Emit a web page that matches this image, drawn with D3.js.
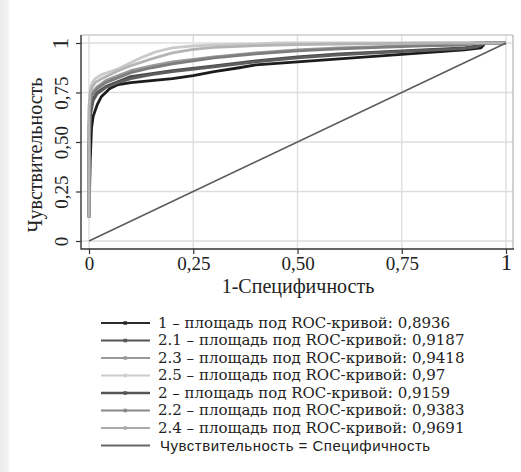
<!DOCTYPE html>
<html><head><meta charset="utf-8">
<script src="https://cdn.jsdelivr.net/npm/d3@7"></script>
<style>html,body{margin:0;padding:0;background:#fff;}svg{display:block;}</style>
</head><body>
<svg id="c" width="521" height="472"></svg>
<script>
// ---- data ----
const xTicks = [0, 0.25, 0.5, 0.75, 1];
const xTickLabels = ["0", "0,25", "0,50", "0,75", "1"];
const yTicks = [0, 0.25, 0.5, 0.75, 1];
const yTickLabels = ["0", "0,25", "0,50", "0,75", "1"];
const xTitle = "1-Специфичность";
const yTitle = "Чувствительность";

const seriesNames = ["1", "2.1", "2.3", "2.5", "2", "2.2", "2.4"];
const seriesAUC = ["0,8936", "0,9187", "0,9418", "0,97", "0,9159", "0,9383", "0,9691"];
const refLabel = "Чувствительность = Специфичность";

// ROC points [1-specificity, sensitivity]
const roc1 = [[0,0.12],[0.003,0.41],[0.006,0.57],[0.01,0.63],[0.02,0.69],[0.03,0.73],[0.05,0.77],[0.07,0.79],[0.1,0.80],[0.15,0.81],[0.2,0.82],[0.25,0.835],[0.3,0.855],[0.36,0.875],[0.4,0.89],[0.5,0.905],[0.6,0.92],[0.7,0.935],[0.8,0.95],[0.9,0.965],[0.94,0.975],[0.95,1],[1,1]];
const roc21 = [[0,0.12],[0,0.5],[0.004,0.66],[0.01,0.72],[0.02,0.75],[0.04,0.78],[0.07,0.805],[0.1,0.83],[0.15,0.845],[0.2,0.86],[0.3,0.885],[0.4,0.91],[0.5,0.93],[0.6,0.945],[0.7,0.955],[0.8,0.965],[0.9,0.975],[0.93,0.985],[0.95,1],[1,1]];
const roc23 = [[0,0.12],[0,0.6],[0.003,0.71],[0.008,0.75],[0.02,0.78],[0.04,0.81],[0.07,0.835],[0.1,0.86],[0.15,0.885],[0.2,0.905],[0.3,0.93],[0.4,0.95],[0.5,0.965],[0.6,0.975],[0.7,0.982],[0.8,0.99],[0.9,0.995],[0.92,1],[1,1]];
const roc25 = [[0,0.12],[0,0.68],[0.003,0.77],[0.008,0.80],[0.015,0.82],[0.03,0.84],[0.05,0.855],[0.07,0.87],[0.1,0.90],[0.13,0.93],[0.16,0.955],[0.2,0.975],[0.25,0.985],[0.3,0.99],[0.4,0.995],[0.45,1],[1,1]];
const roc2 = [[0,0.12],[0,0.48],[0.004,0.64],[0.01,0.71],[0.02,0.745],[0.04,0.775],[0.07,0.80],[0.1,0.82],[0.15,0.84],[0.2,0.855],[0.3,0.88],[0.4,0.905],[0.5,0.925],[0.6,0.94],[0.7,0.952],[0.8,0.962],[0.9,0.972],[0.93,0.98],[0.95,1],[1,1]];
const roc22 = [[0,0.12],[0,0.58],[0.003,0.7],[0.008,0.74],[0.02,0.77],[0.04,0.80],[0.07,0.825],[0.1,0.85],[0.15,0.875],[0.2,0.895],[0.3,0.925],[0.4,0.945],[0.5,0.96],[0.6,0.97],[0.7,0.978],[0.8,0.985],[0.9,0.99],[0.93,1],[1,1]];
const roc24 = [[0,0.12],[0,0.66],[0.003,0.75],[0.008,0.78],[0.015,0.80],[0.03,0.82],[0.05,0.84],[0.07,0.86],[0.1,0.885],[0.15,0.92],[0.2,0.95],[0.25,0.968],[0.3,0.978],[0.4,0.987],[0.5,0.992],[0.6,0.995],[0.7,0.997],[0.8,1],[1,1]];
const refLine = [[0,0],[1,1]];

const seriesData = [roc1, roc21, roc23, roc25, roc2, roc22, roc24];
const seriesColors = ["#1c1c1c", "#4a4a4a", "#9a9a9a", "#cacaca", "#5e5e5e", "#7e7e7e", "#b4b4b4"];
const legendColors = ["#2a2a2a", "#555555", "#999999", "#cccccc", "#555555", "#888888", "#aaaaaa"];
const refColor = "#5a5a5a";

// ---- drawing ----
const svg = d3.select("#c");
const serif = "'Liberation Serif', 'Times New Roman', serif";
const legSerif = "'DejaVu Serif', serif";
const sans = "'Liberation Sans', Arial, sans-serif";

// left shadow strip
const defs = svg.append("defs");
const gr = defs.append("linearGradient").attr("id","sh").attr("x1","0").attr("x2","1");
gr.append("stop").attr("offset","0").attr("stop-color","#ececec");
gr.append("stop").attr("offset","0.8").attr("stop-color","#f3f3f3");
gr.append("stop").attr("offset","1").attr("stop-color","#ffffff");
svg.append("rect").attr("x",0).attr("y",0).attr("width",10).attr("height",472).attr("fill","url(#sh)");

const P = {l:81, r:513, t:35, b:249};
const x = d3.scaleLinear().domain([0,1]).range([89,506]);
const y = d3.scaleLinear().domain([0,1]).range([241,43]);

// gridlines
const g = svg.append("g");
g.selectAll(".vg").data(xTicks).join("line")
  .attr("x1",d=>x(d)).attr("x2",d=>x(d)).attr("y1",P.t).attr("y2",P.b)
  .attr("stroke","#dedede").attr("stroke-width",1.4);
g.selectAll(".hg").data(yTicks).join("line")
  .attr("x1",P.l).attr("x2",P.r).attr("y1",d=>y(d)).attr("y2",d=>y(d))
  .attr("stroke","#dedede").attr("stroke-width",1.4);

// frame (top/right light)
svg.append("line").attr("x1",P.l).attr("x2",P.r).attr("y1",P.t).attr("y2",P.t).attr("stroke","#b4b4b4").attr("stroke-width",1.2);
svg.append("line").attr("x1",P.r).attr("x2",P.r).attr("y1",P.t).attr("y2",P.b).attr("stroke","#b4b4b4").attr("stroke-width",1.2);

// curves
const line = d3.line().x(d=>x(d[0])).y(d=>y(d[1]));
svg.append("g").selectAll("path").data(seriesData).join("path")
  .attr("d", line).attr("fill","none")
  .attr("stroke",(d,i)=>seriesColors[i]).attr("stroke-width",2.8)
  .attr("stroke-linejoin","round");
svg.append("path").datum(refLine).attr("d",line).attr("fill","none")
  .attr("stroke",refColor).attr("stroke-width",1.5);

// axes
const fmtX = d => xTickLabels[xTicks.indexOf(d)];
const fmtY = d => yTickLabels[yTicks.indexOf(d)];
const xa = svg.append("g").attr("transform",`translate(0,${P.b})`)
  .call(d3.axisBottom(x).tickValues(xTicks).tickFormat(fmtX).tickSize(5).tickSizeOuter(0));
xa.select(".domain").remove();
xa.selectAll(".tick line").attr("stroke","#333").attr("stroke-width",1.2);
xa.selectAll(".tick text").attr("y",21).attr("dy",0)
  .style("font-family",serif).style("font-size",d=>d===1?"23px":"19px").attr("fill","#222");

const ya = svg.append("g").attr("transform",`translate(${P.l},0)`)
  .call(d3.axisLeft(y).tickValues(yTicks).tickFormat(fmtY).tickSize(5).tickSizeOuter(0));
ya.select(".domain").remove();
ya.selectAll(".tick line").attr("stroke","#333").attr("stroke-width",1.2);
ya.selectAll(".tick text").attr("x",0).attr("y",-13).attr("dy",0)
  .attr("transform","rotate(-90)").attr("text-anchor","middle")
  .style("font-family",serif).style("font-size",d=>d===1?"23px":"19px").attr("fill","#222");

// axis lines (dark left & bottom)
svg.append("line").attr("x1",P.l).attr("x2",P.l).attr("y1",P.t).attr("y2",P.b+0.6).attr("stroke","#333").attr("stroke-width",1.4);
svg.append("line").attr("x1",P.l).attr("x2",P.r+1).attr("y1",P.b).attr("y2",P.b).attr("stroke","#333").attr("stroke-width",1.4);

// titles
svg.append("text").attr("x",298).attr("y",293).attr("text-anchor","middle")
  .style("font-family",serif).style("font-size","20px").attr("fill","#222").text(xTitle);
svg.append("text").attr("transform","translate(42,155) rotate(-90)").attr("text-anchor","middle")
  .style("font-family",serif).style("font-size","20px").attr("fill","#222").text(yTitle);

// legend
const lg = svg.append("g");
const rowY = i => 323 + i*17.5;
seriesNames.forEach((n,i)=>{
  const yy = rowY(i);
  lg.append("line").attr("x1",101).attr("x2",150).attr("y1",yy).attr("y2",yy)
    .attr("stroke",legendColors[i]).attr("stroke-width", n==="2"?2.4:2);
  lg.append("rect").attr("x",123.5).attr("y",yy-1.75).attr("width",3.5).attr("height",3.5)
    .attr("fill",legendColors[i]);
  lg.append("text").attr("x",158).attr("y",yy+4.5)
    .style("font-family",legSerif).style("font-size","15px").attr("fill","#222")
    .text(`${n} – площадь под ROC-кривой: ${seriesAUC[i]}`);
});
const ry = rowY(7);
lg.append("line").attr("x1",101).attr("x2",150).attr("y1",ry).attr("y2",ry).attr("stroke","#666").attr("stroke-width",2);
lg.append("text").attr("x",160).attr("y",ry+5.5)
  .style("font-family",sans).style("font-size","15px").style("letter-spacing","0.5px")
  .attr("fill","#222").text(refLabel);
</script>
</body></html>
